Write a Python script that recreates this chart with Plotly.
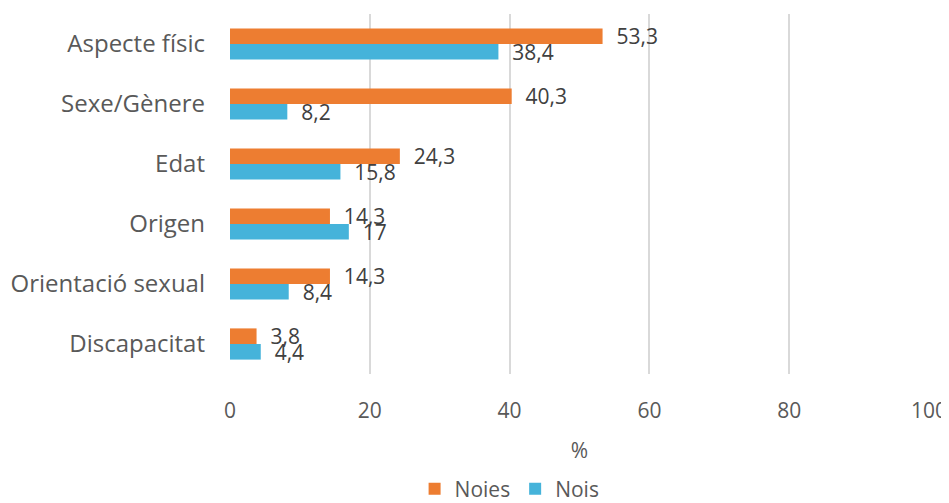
"""Discrimination reasons by sex: horizontal grouped bars."""

import plotly.graph_objects as go

CATEGORIES = ["Aspecte físic", "Sexe/Gènere", "Edat", "Origen", "Orientació sexual", "Discapacitat"]
NOIES = [53.3, 40.3, 24.3, 14.3, 14.3, 3.8]
NOIS = [38.4, 8.2, 15.8, 17, 8.4, 4.4]
X_TICKS = [0, 20, 40, 60, 80, 100]

ORANGE = "#ED7D31"
BLUE = "#45B3DA"
FONT = "Open Sans"


def _label(v):
    return "\u00a0\u00a0" + f"{v:g}".replace(".", ",")


fig = go.Figure()
for name, vals, color in [("Noies", NOIES, ORANGE), ("Nois", NOIS, BLUE)]:
    fig.add_trace(go.Bar(
        y=CATEGORIES, x=vals, name=name, orientation="h",
        marker={"color": color, "line": {"width": 0}},
        text=[_label(v) for v in vals], textposition="outside",
        textfont={"family": FONT, "size": 21, "color": "#404040"},
        constraintext="none", cliponaxis=False,
    ))

# page body adds an 8px margin, so the figure is 8px smaller than the window
fig.update_layout(
    width=941, height=495,
    margin={"l": 222, "r": 20, "t": 6, "b": 129, "autoexpand": False},
    paper_bgcolor="white", plot_bgcolor="white",
    barmode="group", bargap=0.48, bargroupgap=0,
    font={"family": FONT, "color": "#595959", "size": 21},
    showlegend=True,
    legend={
        "orientation": "h", "x": 0.4, "xanchor": "center",
        "y": -0.32, "yanchor": "middle",
        "font": {"size": 21, "color": "#595959"},
        "itemwidth": 30,
    },
)
fig.update_xaxes(
    range=[0, 100], tickvals=X_TICKS, showgrid=True, gridcolor="#D9D9D9",
    gridwidth=1.5, zeroline=False, showline=False, ticks="", automargin=False,
    ticklabelstandoff=22, tickfont={"size": 21},
    title={"text": "%", "standoff": 20, "font": {"size": 21}},
)
fig.update_yaxes(
    autorange="reversed", showgrid=False, zeroline=False, showline=False,
    ticks="", ticklabelstandoff=24, tickfont={"size": 24}, automargin=False,
)

fig.write_html("out.html")
